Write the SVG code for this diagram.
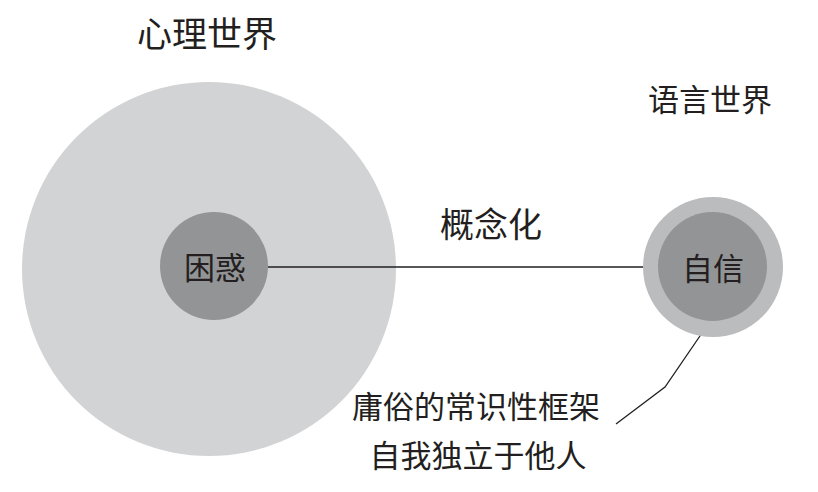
<svg xmlns="http://www.w3.org/2000/svg" width="818" height="492" viewBox="0 0 818 492">
<style>
text{font-family:"Noto Sans CJK SC","Noto Sans",sans-serif;fill:#231f20;text-anchor:middle}
.big{fill:#d1d3d5}
.core{fill:#939496}
.ring{fill:#bbbcbe}
.ln{stroke:#231f20;stroke-width:1.3;fill:none}
</style>
<rect width="818" height="492" fill="#ffffff"/>
<g id="psych-world">
<circle class="big" cx="209" cy="269" r="187"/>
<text x="207" y="47" font-size="35">心理世界</text>
</g>
<g id="lang-world-label">
<text x="710" y="111" font-size="31">语言世界</text>
</g>
<g id="connectors">
<line class="ln" x1="268" y1="267" x2="643" y2="267"/>
<polyline class="ln" points="702,333 665,387 616,424"/>
</g>
<g id="confusion">
<circle class="core" cx="214" cy="266" r="54"/>
<text x="215" y="279" font-size="31">困惑</text>
</g>
<g id="confidence">
<circle class="ring" cx="713" cy="267" r="70"/>
<circle class="core" cx="712.5" cy="266.5" r="54.5"/>
<text x="713" y="280" font-size="31">自信</text>
</g>
<g id="concept-label">
<text x="491" y="237" font-size="34">概念化</text>
</g>
<g id="callout-label">
<text x="476" y="418" font-size="31">庸俗的常识性框架</text>
<text x="478" y="467" font-size="31">自我独立于他人</text>
</g>
</svg>
